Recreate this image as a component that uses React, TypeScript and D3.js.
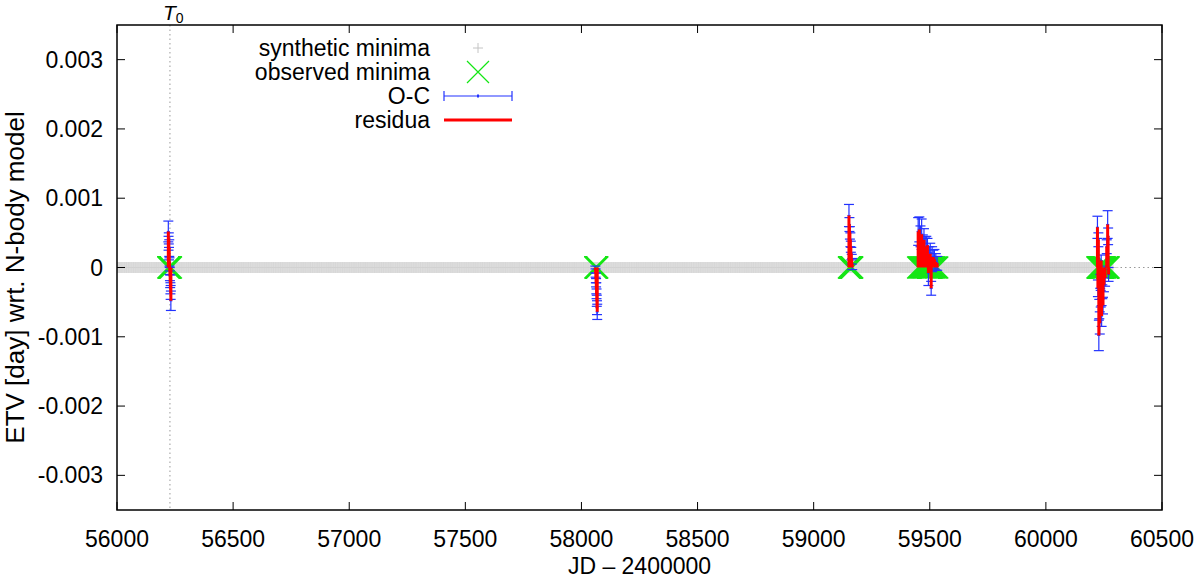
import React from "react";
import * as d3 from "d3";

// x ticks (JD - 2400000) and y ticks (ETV, day)
const xTicks = [56000, 56500, 57000, 57500, 58000, 58500, 59000, 59500, 60000, 60500];
const yTicks = [-0.003, -0.002, -0.001, 0, 0.001, 0.002, 0.003];
const yTickLabels = ["-0.003", "-0.002", "-0.001", "0", "0.001", "0.002", "0.003"];

// reference epoch
const T0 = 56228;

// synthetic minima: the ephemeris from start to end, one every step days
const syntheticStart = 55990;
const syntheticEnd = 60292;
const syntheticStep = 3;

// observed minima: [JD - 2400000, O-C (day), sigma (day)]
const cluster1 = [
  [56221, 0.00052, 0.00015],
  [56222, 0.00035, 0.0001],
  [56223, 0.00042, 0.00008],
  [56224, 0.0002, 0.00009],
  [56225, 0.00028, 0.00012],
  [56226, 0.00008, 0.00006],
  [56227, -0.00005, 0.00005],
  [56228, -0.00012, 0.00007],
  [56229, -0.0002, 0.00009],
  [56230, -0.0003, 0.00008],
  [56231, -0.00036, 0.0001],
  [56232, -0.00048, 0.00014],
];
const cluster2 = [
  [58060, -0.00003, 0.00005],
  [58061, -0.00008, 0.00006],
  [58062, -0.00015, 0.00007],
  [58063, -0.00022, 0.00006],
  [58064, -0.0003, 0.00008],
  [58065, -0.00038, 0.00007],
  [58066, -0.00048, 0.00008],
  [58067, -0.00058, 0.0001],
  [58068, -0.00064, 0.00011],
];
const cluster3 = [
  [59152, 0.00075, 0.00016],
  [59154, 0.00062, 0.0001],
  [59156, 0.0005, 0.00009],
  [59158, 0.0004, 0.0001],
  [59160, 0.0003, 0.00008],
  [59162, 0.0002, 0.00009],
  [59164, 0.00012, 0.00007],
  [59166, 0.00005, 0.00008],
];
const cluster4 = [
  [59450, 0.00052, 0.0002],
  [59455, 0.00055, 0.00018],
  [59460, 0.00045, 0.00015],
  [59465, 0.00048, 0.00022],
  [59470, 0.00035, 0.00012],
  [59475, 0.0004, 0.00016],
  [59480, 0.0003, 0.00014],
  [59485, 0.00025, 0.0002],
  [59490, 0.00032, 0.0001],
  [59494, -0.00008, 0.00018],
  [59498, 0.00018, 0.00012],
  [59502, 0.0002, 0.00015],
  [59506, -0.0003, 0.0001],
  [59510, 0.00012, 0.00018],
  [59515, 0.00015, 0.0001],
  [59520, 0.00012, 0.00014],
  [59526, 0.00008, 0.00012],
  [59532, 0.00006, 0.0001],
];
const cluster5 = [
  [60222, 0.00058, 0.00016],
  [60224, -0.0003, 0.00012],
  [60226, 0.0004, 0.0001],
  [60228, -0.00098, 0.00022],
  [60230, -0.0006, 0.00014],
  [60232, -0.0008, 0.00016],
  [60234, -0.0002, 0.0001],
  [60236, -0.00045, 0.00012],
  [60238, 0.0001, 0.00008],
  [60240, -0.0007, 0.00015],
  [60243, -0.00035, 0.0001],
  [60246, -0.00055, 0.00012],
  [60250, -0.00025, 0.0001],
  [60255, -0.00015, 0.00012],
  [60262, 0.0003, 0.0001],
  [60266, 0.00062, 0.0002],
  [60268, 0.00045, 0.00012],
  [60270, -0.0001, 0.0001],
];
const observed = [...cluster1, ...cluster2, ...cluster3, ...cluster4, ...cluster5];

const font = "'Liberation Sans', Arial, Helvetica, sans-serif";
const fs = 23;

export default function App() {
  const width = 1200;
  const height = 579;
  const left = 117;
  const right = 1162;
  const top = 25;
  const bottom = 510;

  const x = d3.scaleLinear().domain([56000, 60500]).range([left, right]);
  const y = d3.scaleLinear().domain([-0.0035, 0.0035]).range([bottom, top]);

  const synthetic = d3.range(syntheticStart, syntheticEnd, syntheticStep);
  const tick = 8;
  const cross = 11;
  const cap = 5;

  const plusPath = (cx: number, cy: number, r: number) =>
    `M${cx - r},${cy}H${cx + r}M${cx},${cy - r}V${cy + r}`;
  const xPath = (cx: number, cy: number, r: number) =>
    `M${cx - r},${cy - r}L${cx + r},${cy + r}M${cx - r},${cy + r}L${cx + r},${cy - r}`;

  const legendX = 430;
  const legendRows = [48, 72, 96, 120];
  const sampleL = 444;
  const sampleR = 512;
  const sampleC = (sampleL + sampleR) / 2;

  return (
    <svg
      width={width}
      height={height}
      style={{ position: "absolute", left: 0, top: 0, background: "#fff" }}
      fontFamily={font}
    >
      <defs>
        <clipPath id="plot">
          <rect x={left} y={top} width={right - left} height={bottom - top} />
        </clipPath>
      </defs>

      <g clipPath="url(#plot)">
        {/* zero line */}
        <line x1={left} x2={right} y1={y(0)} y2={y(0)} stroke="#999" strokeDasharray="1.5,3" />
        {/* synthetic minima */}
        <path
          d={synthetic.map((t) => plusPath(x(t), y(0), 5.5)).join("")}
          stroke="#d2d2d2"
          strokeWidth={0.8}
          fill="none"
        />
        {/* T0 */}
        <line x1={x(T0)} x2={x(T0)} y1={top} y2={bottom} stroke="#999" strokeDasharray="1.5,3" />

        {/* observed minima */}
        <path
          d={observed.map((d) => xPath(x(d[0]), y(0), cross)).join("")}
          stroke="#14e614"
          strokeWidth={1.6}
          fill="none"
        />

        {/* O-C with error bars */}
        {observed.map((d, i) => {
          const cx = x(d[0]);
          const y1 = y(d[1] - d[2]);
          const y2 = y(d[1] + d[2]);
          return (
            <g key={i} stroke="#2233ff" strokeWidth={1.2}>
              <line x1={cx} x2={cx} y1={y1} y2={y2} />
              <line x1={cx - cap} x2={cx + cap} y1={y1} y2={y1} />
              <line x1={cx - cap} x2={cx + cap} y1={y2} y2={y2} />
              <line x1={cx - 1.5} x2={cx + 1.5} y1={y(d[1])} y2={y(d[1])} />
            </g>
          );
        })}

        {/* residua */}
        <path
          d={observed.map((d) => `M${x(d[0])},${y(0)}V${y(d[1])}`).join("")}
          stroke="#ff0000"
          strokeWidth={3}
          fill="none"
        />
      </g>

      {/* frame */}
      <rect x={left} y={top} width={right - left} height={bottom - top} fill="none" stroke="#000" strokeWidth={1.5} />

      {/* x ticks */}
      {xTicks.map((t) => (
        <g key={t}>
          <line x1={x(t)} x2={x(t)} y1={bottom} y2={bottom - tick} stroke="#000" />
          <line x1={x(t)} x2={x(t)} y1={top} y2={top + tick} stroke="#000" />
          <text x={x(t)} y={bottom + 37} textAnchor="middle" fontSize={fs}>
            {t}
          </text>
        </g>
      ))}

      {/* y ticks */}
      {yTicks.map((t, i) => (
        <g key={t}>
          <line x1={left} x2={left + tick} y1={y(t)} y2={y(t)} stroke="#000" />
          <line x1={right} x2={right - tick} y1={y(t)} y2={y(t)} stroke="#000" />
          <text x={left - 14} y={y(t)} dy="0.35em" textAnchor="end" fontSize={fs}>
            {yTickLabels[i]}
          </text>
        </g>
      ))}

      {/* titles */}
      <text x={(left + right) / 2} y={574} textAnchor="middle" fontSize={fs}>
        JD – 2400000
      </text>
      <text
        transform={`translate(24,${(top + bottom) / 2 + 10}) rotate(-90)`}
        textAnchor="middle"
        fontSize={26}
      >
        ETV [day] wrt. N-body model
      </text>
      <text x={x(T0) - 7} y={20} fontSize={21} fontStyle="italic">
        T<tspan fontSize={14} fontStyle="normal" dy={3}>0</tspan>
      </text>

      {/* legend */}
      <g fontSize={fs} textAnchor="end">
        <text x={legendX} y={legendRows[0]} dy="0.35em">synthetic minima</text>
        <text x={legendX} y={legendRows[1]} dy="0.35em">observed minima</text>
        <text x={legendX} y={legendRows[2]} dy="0.35em">O-C</text>
        <text x={legendX} y={legendRows[3]} dy="0.35em">residua</text>
      </g>
      <path d={plusPath(sampleC, legendRows[0], 5)} stroke="#c4c4c4" fill="none" />
      <path d={xPath(sampleC, legendRows[1], cross)} stroke="#14e614" strokeWidth={1.2} fill="none" />
      <g stroke="#2233ff" strokeWidth={1.2}>
        <line x1={sampleL} x2={sampleR} y1={legendRows[2]} y2={legendRows[2]} />
        <line x1={sampleL} x2={sampleL} y1={legendRows[2] - cap} y2={legendRows[2] + cap} />
        <line x1={sampleR} x2={sampleR} y1={legendRows[2] - cap} y2={legendRows[2] + cap} />
        <line x1={sampleC} x2={sampleC} y1={legendRows[2] - 1.5} y2={legendRows[2] + 1.5} strokeWidth={2} />
      </g>
      <line x1={sampleL} x2={sampleR} y1={legendRows[3]} y2={legendRows[3]} stroke="#ff0000" strokeWidth={3} />
    </svg>
  );
}
